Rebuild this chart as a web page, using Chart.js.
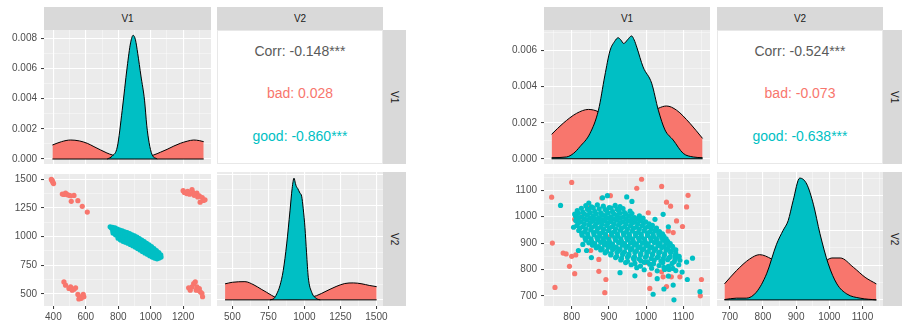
<!DOCTYPE html>
<html>
<head>
<meta charset="utf-8">
<script src="https://cdn.jsdelivr.net/npm/chart.js@4.4.1/dist/chart.umd.min.js"></script>
<style>
  body { margin: 0; background: #fff; width: 902px; height: 323px; overflow: hidden; position: relative;
         font-family: "Liberation Sans", Arial, sans-serif; }
  canvas { position: absolute; }
  .strip { position: absolute; background: #d9d9d9; color: #1a1a1a; font-size: 10px;
           display: flex; align-items: center; justify-content: center; }
  .strip.side span { writing-mode: vertical-rl; }
  .corr { position: absolute; background: #fff; border: 1px solid #e8e8e8; box-sizing: border-box; }
  .corr div { position: absolute; left: 0; right: 0; text-align: center; font-size: 14px; line-height: 16px; }
</style>
</head>
<body>
<script>
// ==============================
// DATA
// ==============================
const RED = "#F8766D";
const CYAN = "#00BFC4";

// ---- left figure ----
const leftV1Range = [342, 1372];
const leftV2Range = [393, 1546];
const leftV1Major = [400, 600, 800, 1000, 1200];
const leftV1Minor = [500, 700, 900, 1100, 1300];
const leftV1Labels = ["400", "600", "800", "1000", "1200"];
const leftV2Major = [500, 750, 1000, 1250, 1500];
const leftV2Minor = [625, 875, 1125, 1375];
const leftV2Labels = ["500", "750", "1000", "1250", "1500"];

const leftDensRange1 = [-0.00033, 0.00855];
const leftDensRange2 = [-0.00039, 0.00814];
const densMajor8 = [0, 0.002, 0.004, 0.006, 0.008];
const densMinor8 = [0.001, 0.003, 0.005, 0.007];
const densLabels8 = ["0.000", "0.002", "0.004", "0.006", "0.008"];

const leftV1DensBad = [[394,0.00093],[450,0.00115],[506,0.00126],[560,0.0012],[609,0.00104],[650,0.00082],[691,0.0006],[730,0.0004],[763,0.00027],[800,0.00018],[850,0.00012],[900,0.0001],[950,0.00012],[990,0.0002],[1019,0.00027],[1060,0.00045],[1101,0.00064],[1143,0.00086],[1183,0.00104],[1225,0.00118],[1265,0.00126],[1300,0.00122],[1327,0.00115]];
const leftV1DensGood = [[732,0],[763,0.0002],[794,0.0008],[824,0.0032],[855,0.0061],[876,0.0077],[892,0.0082],[906,0.0079],[920,0.007],[940,0.0055],[962,0.0039],[976,0.0022],[990,0.0011],[1008,0.0003],[1040,0]];
const leftV2DensBad = [[449,0.00102],[500,0.00112],[587,0.00116],[650,0.00095],[700,0.00068],[738,0.00048],[770,0.0003],[808,0.00013],[850,0.00008],[900,0.00006],[950,0.00006],[1000,0.0001],[1050,0.00018],[1085,0.00027],[1150,0.00055],[1220,0.00085],[1280,0.00104],[1340,0.00108],[1400,0.00102],[1450,0.00092],[1502,0.00084]];
const leftV2DensGood = [[761,0],[790,0.0001],[808,0.00038],[830,0.0009],[853,0.00186],[877,0.00356],[900,0.00567],[915,0.0071],[928,0.00775],[938,0.0074],[945,0.0072],[953,0.0071],[969,0.0068],[981,0.0066],[992,0.0058],[1004,0.0046],[1015,0.003],[1027,0.00144],[1051,0.00048],[1085,0.00008],[1110,0]];

const leftScatterBad = [
  [387,1500],[393,1486],[397,1472],[401,1462],[391,1492],
  [455,1371],[465,1368],[475,1379],[486,1365],[497,1360],[506,1356],[527,1359],[510,1307],[551,1313],[578,1264],[609,1213],
  [1200,1400],[1208,1385],[1222,1375],[1228,1395],[1240,1370],[1255,1410],[1260,1385],[1268,1360],[1285,1380],[1290,1345],[1300,1355],[1318,1340],[1305,1300],[1325,1315],[1335,1320],
  [465,603],[475,575],[496,546],[506,560],[516,531],[527,540],[537,552],[551,494],[563,474],[572,460],[584,494],[588,474],[557,454],
  [1234,552],[1244,531],[1255,560],[1265,589],[1275,603],[1281,531],[1285,560],[1296,531],[1300,545],[1306,517],[1316,503],[1320,474]
];
const leftScatterGood = [
  [750,1085],[758,1075],
  [765,1080],[766,1050],[768,1030],
  [780,1075],[781,1045],[783,1015],
  [795,1065],[796,1035],[797,1005],[799,985],
  [810,1055],[811,1025],[812,995],[814,970],
  [825,1050],[826,1018],[827,988],[829,958],
  [840,1040],[841,1010],[842,980],[844,950],
  [855,1035],[856,1003],[857,972],[859,942],
  [870,1025],[871,993],[872,962],[874,930],
  [885,1015],[886,983],[887,952],[889,920],
  [900,1005],[901,972],[902,940],[904,908],
  [915,995],[916,962],[917,930],[919,896],
  [930,982],[931,948],[932,915],[934,882],
  [945,968],[946,935],[947,902],[949,870],
  [960,955],[961,922],[962,890],[964,857],
  [975,940],[976,908],[977,876],[979,845],
  [990,928],[991,895],[992,862],[994,832],
  [1005,912],[1006,880],[1007,850],[1009,820],
  [1020,895],[1021,865],[1022,838],[1024,812],
  [1035,878],[1036,850],[1037,825],[1039,805],
  [1050,860],[1051,835],[1052,812],
  [1062,840],[1064,820]
];
const leftCorr = ["Corr: -0.148***", "bad: 0.028", "good: -0.860***"];

// ---- right figure ----
const rightV1Range = [725.5, 1172];
const rightV2Range = [661.5, 1162];
const rightV1Major = [800, 900, 1000, 1100];
const rightV1Minor = [750, 850, 950, 1050, 1150];
const rightV1Labels = ["800", "900", "1000", "1100"];
const rightV2Major = [700, 800, 900, 1000, 1100];
const rightV2Minor = [750, 850, 950, 1050, 1150];
const rightV2Labels = ["700", "800", "900", "1000", "1100"];

const rightDensRange1 = [-0.00029, 0.00715];
const rightDensRange2 = [-0.00035, 0.00735];
const densMajor6 = [0, 0.002, 0.004, 0.006];
const densMinor6 = [0.001, 0.003, 0.005, 0.007];
const densLabels6 = ["0.000", "0.002", "0.004", "0.006"];

const rightV1DensBad = [[746,0.00136],[777,0.00197],[813,0.00252],[845,0.00274],[872,0.00261],[900,0.0022],[930,0.0019],[960,0.0019],[990,0.0021],[1010,0.0025],[1033,0.0028],[1055,0.00293],[1082,0.0027],[1118,0.00197],[1152,0.00113]];
const rightV1DensGood = [[746,0.00006],[786,0.0001],[805,0.0003],[822,0.00067],[849,0.0014],[872,0.0027],[889,0.0046],[903,0.006],[915,0.0065],[925,0.00672],[932,0.0066],[940,0.0064],[950,0.0066],[961,0.00682],[968,0.0066],[975,0.0062],[992,0.0051],[1015,0.0042],[1033,0.0027],[1051,0.0016],[1073,0.00104],[1100,0.0003],[1127,0.0001],[1152,0.00006]];
const rightV2DensBad = [[684,0.00092],[720,0.00168],[760,0.00235],[790,0.0026],[826,0.00235],[860,0.0019],[900,0.0016],[950,0.0017],[980,0.0021],[1008,0.00241],[1033,0.00241],[1073,0.00187],[1108,0.0013],[1142,0.00092]];
const rightV2DensGood = [[684,0.00002],[720,0.0001],[750,0.0001],[780,0.00044],[811,0.0015],[841,0.0032],[861,0.004],[876,0.00455],[891,0.0057],[911,0.007],[932,0.00666],[952,0.0055],[972,0.0038],[997,0.00207],[1023,0.00092],[1053,0.00034],[1093,0.0001],[1142,0]];

const rightScatterBad = [
  [746,1074],[800,1130],[748,900],[755,732],[777,862],[785,859],[800,850],[811,855],[808,784],[794,812],
  [808,990],[827,999],[851,872],[845,1034],[873,838],[873,793],[881,1071],[892,762],[889,712],[904,1080],
  [901,924],[975,1108],[988,1142],[1006,1015],[1001,826],[1010,781],[1010,728],[1042,1115],[1055,1055],[1066,1040],
  [1060,946],[1073,940],[1082,984],[1098,963],[1046,772],[1055,735],[1042,791],[1068,772],[1091,772],[1109,1037],
  [1113,1081],[1149,762],[1146,700]
];
const rightScatterGood = [
  [838,1042],[853,1037],[869,1045],[885,1040],[901,1035],[917,1043],[930,1038],
  [826,1032],[842,1029],[858,1034],[874,1030],[890,1027],[906,1033],[922,1029],[938,1031],
  [815,1023],[830,1018],[846,1025],[862,1020],[878,1015],[894,1023],[910,1019],[926,1024],[942,1016],[957,1021],
  [818,1013],[834,1010],[850,1015],[866,1011],[882,1008],[898,1014],[914,1010],[930,1013],[946,1009],[962,1012],
  [810,1004],[826,999],[842,1006],[858,1001],[874,997],[890,1004],[906,1000],[922,1005],[938,998],[954,1002],[969,997],[982,1003],
  [818,994],[834,991],[850,996],[866,992],[882,989],[898,995],[914,991],[930,994],[946,990],[962,993],[978,990],[992,995],
  [811,986],[825,981],[841,988],[857,983],[873,979],[889,986],[905,982],[921,987],[937,980],[953,984],[969,979],[985,985],[999,981],
  [818,976],[834,973],[850,978],[866,974],[882,971],[898,977],[914,973],[930,976],[946,972],[962,975],[978,972],[994,977],[1008,973],
  [814,967],[830,962],[846,969],[862,964],[878,960],[894,967],[910,963],[926,968],[942,961],[958,965],[974,960],[990,966],[1005,962],[1017,967],
  [822,957],[838,954],[854,959],[870,955],[886,952],[902,958],[918,954],[934,957],[950,953],[966,956],[982,953],[998,958],[1014,954],[1028,957],
  [819,948],[835,943],[851,950],[867,945],[883,941],[899,948],[915,944],[931,949],[947,942],[963,946],[979,941],[995,947],[1011,943],[1025,948],[1036,944],
  [827,938],[843,935],[859,940],[875,936],[891,933],[907,939],[923,935],[939,938],[955,934],[971,937],[987,934],[1003,939],[1019,935],[1034,938],[1044,935],
  [828,930],[844,925],[860,932],[876,927],[892,923],[908,930],[924,926],[940,931],[956,924],[972,928],[988,923],[1004,929],[1020,925],[1035,930],[1048,926],
  [836,919],[852,916],[868,921],[884,917],[900,914],[916,920],[932,916],[948,919],[964,915],[980,918],[996,915],[1012,920],[1028,916],[1042,919],[1054,916],
  [838,911],[854,906],[870,913],[886,908],[902,904],[918,911],[934,907],[950,912],[966,905],[982,909],[998,904],[1014,910],[1030,906],[1045,911],[1058,907],
  [846,901],[862,898],[878,903],[894,899],[910,896],[926,902],[942,898],[958,901],[974,897],[990,900],[1006,897],[1022,902],[1038,898],[1053,901],[1065,898],
  [856,892],[872,887],[888,894],[904,889],[920,885],[936,892],[952,888],[968,893],[984,886],[1000,890],[1016,885],[1032,891],[1048,887],[1061,892],[1071,888],
  [866,882],[882,879],[898,884],[914,880],[930,877],[946,883],[962,879],[978,882],[994,878],[1010,881],[1026,878],[1042,883],[1058,879],[1072,882],
  [878,874],[894,869],[910,876],[926,871],[942,867],[958,874],[974,870],[990,875],[1006,868],[1022,872],[1038,867],[1054,873],[1068,869],[1080,874],
  [890,863],[906,860],[922,865],[938,861],[954,858],[970,864],[986,860],[1002,863],[1018,859],[1034,862],[1050,859],[1066,864],[1080,860],
  [905,855],[921,850],[937,857],[953,852],[969,848],[985,855],[1001,851],[1017,856],[1033,849],[1049,853],[1065,848],[1078,854],[1089,850],
  [918,845],[934,842],[950,847],[966,843],[982,840],[998,846],[1014,842],[1030,845],[1046,841],[1062,844],[1078,841],[1088,846],
  [932,836],[950,831],[968,838],[986,833],[1004,829],[1022,836],[1040,832],[1058,837],[1076,830],[1091,835],
  [945,826],[970,823],[995,827],[1020,822],[1045,826],[1070,823],
  [960,818],[985,813],[1010,820],[1035,815],[1060,812],[1088,818],
  [975,807],[1015,805],[1048,808],[1072,804],
  [995,799],[1030,795],[1062,800],[1080,796],
  [770,1043],[846,1052],[883,1072],[896,1080],[948,1075],[962,1058],[1024,990],[1046,1009],[1060,962],
  [1125,843],[1109,828],[1111,762],[1073,741],[1048,726],[1075,685],[1019,706],[1145,716],[930,788],[970,776],
  [1097,790],[1060,775],[1030,765],[1050,800],[818,872],[840,872],[853,845],[830,895],[805,960],[808,1010]
];
const rightCorr = ["Corr: -0.524***", "bad: -0.073", "good: -0.638***"];

const stripNames = ["V1", "V2"];

// ==============================
// LAYOUT (panel boxes, px)
// ==============================
const ROW1 = { y: 30, h: 134 };
const ROW2 = { y: 172, h: 134 };
const STRIP_TOP = { y: 7, h: 23 };
const STRIP_W = 23;
const Y_AXIS_W = 44;
const X_AXIS_H = 17;
const figs = [
  { col1: { x: 44, w: 167 }, col2: { x: 217, w: 166 } },
  { col1: { x: 544, w: 166 }, col2: { x: 717, w: 166 } }
];

Chart.defaults.font.family = '"Liberation Sans", Arial, sans-serif';
Chart.defaults.font.size = 10;
Chart.defaults.color = "#4d4d4d";

// ==============================
// HELPERS
// ==============================
const panelBg = {
  id: "panelBg",
  beforeDraw(chart) {
    const a = chart.chartArea, ctx = chart.ctx;
    ctx.save();
    ctx.fillStyle = "#ebebeb";
    ctx.fillRect(a.left, a.top, a.right - a.left, a.bottom - a.top);
    ctx.restore();
  }
};

function isMajor(ctx, major) {
  return !!(ctx && ctx.tick && major.includes(ctx.tick.value));
}

function makeAxis(range, major, minor, labels, show, size, horizontal) {
  return {
    type: "linear",
    position: horizontal ? "bottom" : "left",
    min: range[0],
    max: range[1],
    afterBuildTicks: s => {
      s.ticks = major.concat(minor).sort((a, b) => a - b).map(v => ({ value: v }));
    },
    afterFit: s => {
      if (horizontal) { s.height = size; s.paddingLeft = 0; s.paddingRight = 0; }
      else { s.width = size; s.paddingTop = 0; s.paddingBottom = 0; }
    },
    ticks: {
      display: show,
      autoSkip: false,
      maxRotation: 0,
      minRotation: 0,
      padding: horizontal ? 2 : 4,
      color: "#4d4d4d",
      callback: v => {
        const i = major.indexOf(v);
        return i >= 0 ? labels[i] : "";
      }
    },
    grid: {
      color: c => isMajor(c, major) ? "#ffffff" : "rgba(255,255,255,0.75)",
      lineWidth: c => isMajor(c, major) ? 1.1 : 0.55,
      drawTicks: show,
      tickLength: 3,
      tickWidth: 1,
      tickColor: c => isMajor(c, major) ? "#333333" : "rgba(0,0,0,0)"
    },
    border: { display: false }
  };
}

function toXY(pairs) {
  return pairs.map(p => ({ x: p[0], y: p[1] }));
}

function densitySets(good, bad) {
  const base = [{ x: bad[0][0], y: 0 }, { x: bad[bad.length - 1][0], y: 0 }];
  const style = { showLine: true, fill: "origin", borderColor: "#000000", borderWidth: 1,
                  pointRadius: 0, cubicInterpolationMode: "monotone" };
  return [
    { data: base, showLine: true, borderColor: "#000000", borderWidth: 1, pointRadius: 0, fill: false },
    Object.assign({ data: toXY(good), backgroundColor: CYAN }, style),
    Object.assign({ data: toXY(bad), backgroundColor: RED }, style)
  ];
}

function scatterSets(good, bad) {
  const style = { pointRadius: 2.6, pointBorderWidth: 0, showLine: false };
  return [
    Object.assign({ data: toXY(good), pointBackgroundColor: CYAN, backgroundColor: CYAN }, style),
    Object.assign({ data: toXY(bad), pointBackgroundColor: RED, backgroundColor: RED }, style)
  ];
}

// box: chart area; showY / showX: whether that axis has labels
function makePanel(box, xAxis, yAxis, showX, showY, datasets) {
  const padL = showY ? Y_AXIS_W : 16;
  const padR = 16;
  const padT = 2;
  const padB = showX ? X_AXIS_H : 2;
  const w = box.w + padL + padR;
  const h = box.h + padT + padB;
  const canvas = document.createElement("canvas");
  canvas.width = w;
  canvas.height = h;
  canvas.style.left = (box.x - padL) + "px";
  canvas.style.top = (box.y - padT) + "px";
  canvas.style.width = w + "px";
  canvas.style.height = h + "px";
  document.body.appendChild(canvas);

  new Chart(canvas, {
    type: "scatter",
    data: { datasets },
    options: {
      responsive: false,
      animation: false,
      events: [],
      layout: { padding: { left: showY ? 0 : padL, right: padR, top: padT, bottom: showX ? 0 : padB } },
      plugins: { legend: { display: false }, tooltip: { enabled: false } },
      scales: {
        x: makeAxis(xAxis.range, xAxis.major, xAxis.minor, xAxis.labels, showX, showX ? X_AXIS_H : 0, true),
        y: makeAxis(yAxis.range, yAxis.major, yAxis.minor, yAxis.labels, showY, showY ? Y_AXIS_W : 0, false)
      }
    },
    plugins: [panelBg]
  });
}

function addDiv(cls, x, y, w, h, html) {
  const d = document.createElement("div");
  d.className = cls;
  d.style.left = x + "px";
  d.style.top = y + "px";
  d.style.width = w + "px";
  d.style.height = h + "px";
  d.innerHTML = html;
  document.body.appendChild(d);
  return d;
}

function addCorr(box, texts) {
  const d = addDiv("corr", box.x, box.y, box.w, box.h, "");
  const colors = ["#5a5a5a", RED, CYAN];
  const centers = [20, 62, 105];
  texts.forEach((t, i) => {
    const line = document.createElement("div");
    line.textContent = t;
    line.style.color = colors[i];
    line.style.top = (centers[i] - 8) + "px";
    d.appendChild(line);
  });
}

function buildFigure(fig, v1, v2, dens1Range, dens2Range, dens1Ticks, dens2Ticks,
                     d1Good, d1Bad, d2Good, d2Bad, scGood, scBad, corr) {
  const c1 = fig.col1, c2 = fig.col2;

  // strips
  addDiv("strip", c1.x, STRIP_TOP.y, c1.w, STRIP_TOP.h, stripNames[0]);
  addDiv("strip", c2.x, STRIP_TOP.y, c2.w, STRIP_TOP.h, stripNames[1]);
  addDiv("strip side", c2.x + c2.w, ROW1.y, STRIP_W, ROW1.h, "<span>" + stripNames[0] + "</span>");
  addDiv("strip side", c2.x + c2.w, ROW2.y, STRIP_W, ROW2.h, "<span>" + stripNames[1] + "</span>");

  // V1 density (top-left)
  makePanel({ x: c1.x, y: ROW1.y, w: c1.w, h: ROW1.h }, v1,
    { range: dens1Range, major: dens1Ticks.major, minor: dens1Ticks.minor, labels: dens1Ticks.labels },
    false, true, densitySets(d1Good, d1Bad));

  // correlation text (top-right)
  addCorr({ x: c2.x, y: ROW1.y, w: c2.w, h: ROW1.h }, corr);

  // scatter (bottom-left)
  makePanel({ x: c1.x, y: ROW2.y, w: c1.w, h: ROW2.h }, v1, v2, true, true, scatterSets(scGood, scBad));

  // V2 density (bottom-right)
  makePanel({ x: c2.x, y: ROW2.y, w: c2.w, h: ROW2.h }, v2,
    { range: dens2Range, major: dens2Ticks.major, minor: dens2Ticks.minor, labels: dens2Ticks.labels },
    true, false, densitySets(d2Good, d2Bad));
}

// ==============================
// BUILD
// ==============================
buildFigure(figs[0],
  { range: leftV1Range, major: leftV1Major, minor: leftV1Minor, labels: leftV1Labels },
  { range: leftV2Range, major: leftV2Major, minor: leftV2Minor, labels: leftV2Labels },
  leftDensRange1, leftDensRange2,
  { major: densMajor8, minor: densMinor8, labels: densLabels8 },
  { major: densMajor8, minor: densMinor8, labels: densLabels8 },
  leftV1DensGood, leftV1DensBad, leftV2DensGood, leftV2DensBad,
  leftScatterGood, leftScatterBad, leftCorr);

buildFigure(figs[1],
  { range: rightV1Range, major: rightV1Major, minor: rightV1Minor, labels: rightV1Labels },
  { range: rightV2Range, major: rightV2Major, minor: rightV2Minor, labels: rightV2Labels },
  rightDensRange1, rightDensRange2,
  { major: densMajor6, minor: densMinor6, labels: densLabels6 },
  { major: densMajor6, minor: densMinor6, labels: densLabels6 },
  rightV1DensGood, rightV1DensBad, rightV2DensGood, rightV2DensBad,
  rightScatterGood, rightScatterBad, rightCorr);
</script>
</body>
</html>
